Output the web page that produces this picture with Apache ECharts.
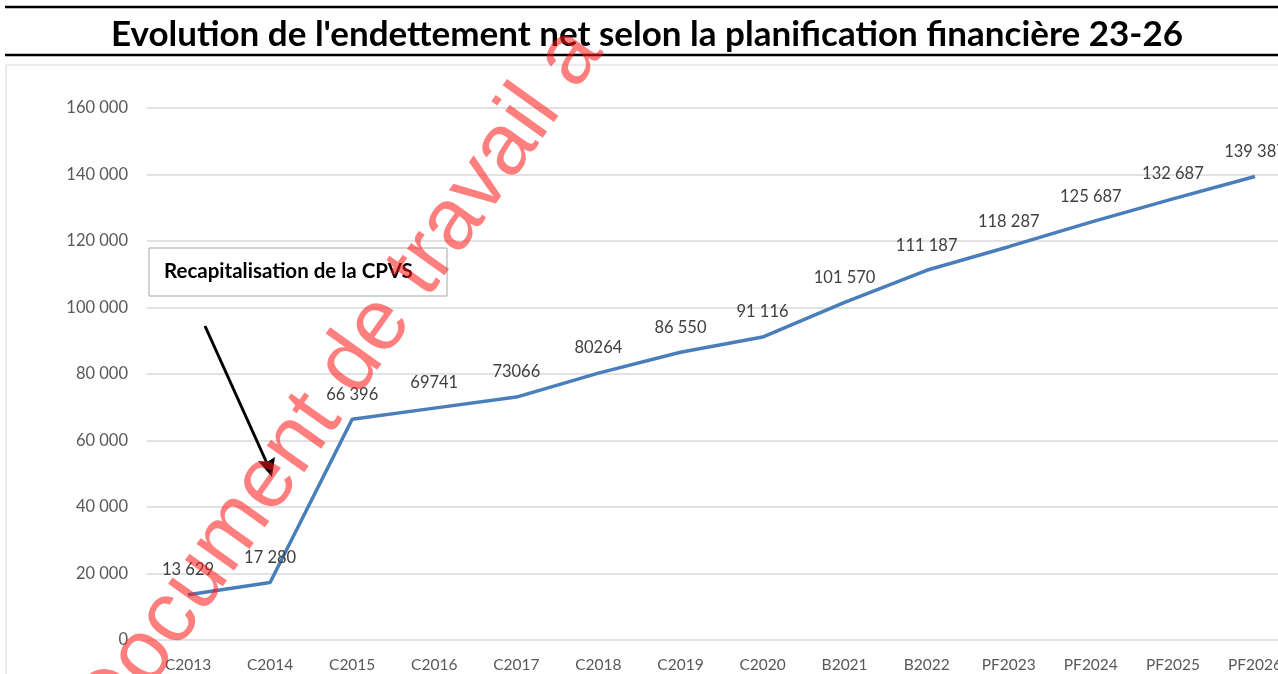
<!DOCTYPE html>
<html>
<head>
<meta charset="utf-8">
<script src="https://cdn.jsdelivr.net/npm/echarts@6/dist/echarts.min.js"></script>
<style>
  html, body { margin: 0; padding: 0; background: #fff; }
  #chart { width: 1278px; height: 674px; }
</style>
</head>
<body>
<div id="chart"></div>
<script>
const categories = ['C2013', 'C2014', 'C2015', 'C2016', 'C2017', 'C2018', 'C2019', 'C2020',
  'B2021', 'B2022', 'PF2023', 'PF2024', 'PF2025', 'PF2026']
const debt = [13629, 17280, 66396, 69741, 73066, 80264, 86550, 91116,
  101570, 111187, 118287, 125687, 132687, 139387]
// labels as printed in the source (some without thousands space)
const debtLabels = ['13 629', '17 280', '66 396', '69741', '73066', '80264', '86 550', '91 116',
  '101 570', '111 187', '118 287', '125 687', '132 687', '139 387']
const yTicks = [0, 20000, 40000, 60000, 80000, 100000, 120000, 140000, 160000]

const titleText = "Evolution de l'endettement net selon la planification financière 23-26"
const noteText = 'Recapitalisation de la CPVS'
const watermark = 'Document de travail a'

const chart = echarts.init(document.getElementById('chart'), null, { renderer: 'canvas' })

const fmt = v => String(v).replace(/\B(?=(\d{3})+(?!\d))/g, ' ')

chart.setOption({
  animation: false,
  textStyle: { fontFamily: 'Lato, sans-serif' },
  title: {
    text: titleText,
    left: 106,
    top: 12,
    textStyle: { fontSize: 35, fontWeight: 'bold', color: '#000', fontFamily: 'Lato, sans-serif' }
  },
  // plot runs past the right edge of the picture (last category cut off)
  grid: { left: 147, width: 1149, top: 108, bottom: 34, outerBoundsMode: 'none', containLabel: false },
  xAxis: {
    type: 'category',
    data: categories,
    boundaryGap: true,
    axisLine: { show: false },
    axisTick: { show: false },
    axisLabel: { color: '#595959', fontSize: 15.5, margin: 17 }
  },
  yAxis: {
    type: 'value',
    min: yTicks[0],
    max: yTicks[yTicks.length - 1],
    interval: yTicks[1] - yTicks[0],
    axisLine: { show: false },
    axisTick: { show: false },
    axisLabel: { color: '#595959', fontSize: 16.5, margin: 19, formatter: v => fmt(v) },
    splitLine: { lineStyle: { color: '#d9d9d9', width: 1.5 } }
  },
  series: [{
    name: 'Endettement net',
    type: 'line',
    data: debt,
    showSymbol: true,
    symbol: 'circle',
    symbolSize: 1,
    itemStyle: { color: 'rgba(0,0,0,0)' },
    lineStyle: { color: '#4a7ebb', width: 3.5 },
    label: {
      show: true,
      position: 'top',
      distance: 16,
      color: '#404040',
      fontSize: 16.5,
      formatter: p => debtLabels[p.dataIndex]
    }
  }],
  graphic: [
    // rules above and below the title
    { type: 'line', shape: { x1: 5, y1: 7, x2: 1278, y2: 7 }, style: { stroke: '#000', lineWidth: 2.5 } },
    { type: 'line', shape: { x1: 5, y1: 55, x2: 1278, y2: 55 }, style: { stroke: '#000', lineWidth: 2.5 } },
    // chart frame
    { type: 'rect', shape: { x: 6, y: 65, width: 1300, height: 640 }, style: { fill: null, stroke: '#d9d9d9', lineWidth: 1 }, z: -1 },
    // annotation box
    { type: 'rect', shape: { x: 149, y: 248, width: 298, height: 48 }, style: { fill: '#fff', stroke: '#a6a6a6', lineWidth: 1 }, z: 50 },
    { type: 'text', x: 164, y: 271, style: { text: noteText, font: 'bold 20.5px Lato, sans-serif', fill: '#000', textVerticalAlign: 'middle' }, z: 51 },
    // arrow
    { type: 'line', shape: { x1: 205, y1: 326, x2: 270, y2: 470 }, style: { stroke: '#000', lineWidth: 3 }, z: 50 },
    { type: 'polygon', shape: { points: [[272, 477], [258, 461], [267, 462], [275, 457]] }, style: { fill: '#000' }, z: 50 },
    // watermark
    {
      type: 'text',
      x: 93, y: 727,
      rotation: 54.5 * Math.PI / 180,
      style: {
        text: watermark,
        font: '87px "Liberation Sans", Arial, sans-serif',
        fill: 'rgba(255, 20, 20, 0.55)',
        textVerticalAlign: 'middle'
      },
      z: 100
    }
  ]
})
</script>
</body>
</html>
